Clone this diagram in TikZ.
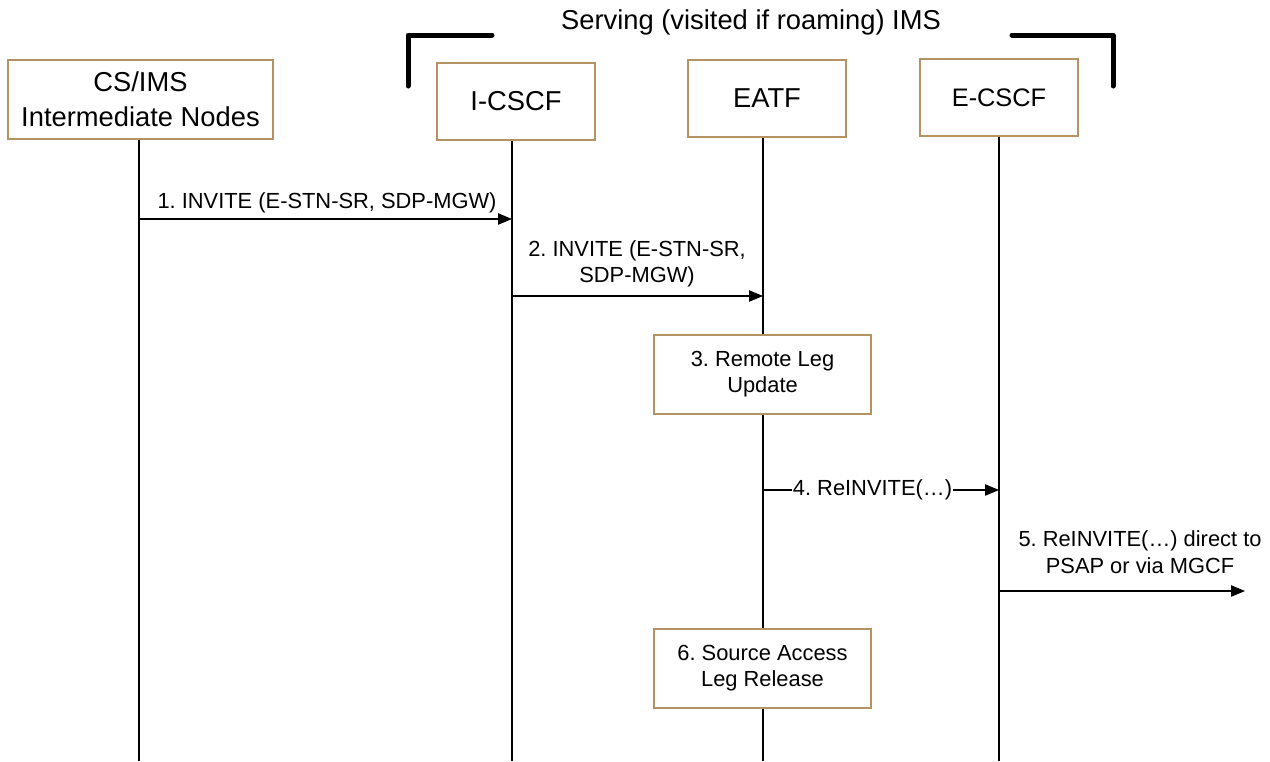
\documentclass[tikz,border=0pt]{standalone}
\usepackage{fontspec}
\setmainfont{Liberation Sans}
\usetikzlibrary{arrows.meta}
\definecolor{boxtan}{RGB}{181,146,97}
\frenchspacing
\begin{document}
\begin{tikzpicture}[x=0.75pt,y=-0.75pt,
  hdr/.style={draw=boxtan,line width=0.9pt,fill=white,inner sep=0pt,align=center,
    font=\fontsize{20.5pt}{26pt}\selectfont},
  actbox/.style={draw=boxtan,line width=0.9pt,fill=white,inner sep=0pt,align=center,
    minimum width=162.75pt,minimum height=59.25pt,
    font=\fontsize{16.4pt}{19.5pt}\selectfont},
  life/.style={line width=1.1pt},
  msg/.style={line width=0.9pt,-{Triangle[length=10.5pt,width=8.5pt]}},
  lbl/.style={align=center,inner sep=1pt,font=\fontsize{16.4pt}{20pt}\selectfont},
  brk/.style={line width=3.75pt,line cap=round,line join=round}]
\useasboundingbox (0,0) rectangle (1270,761);

% lifeline end coordinates
\coordinate (cs-end) at (139,761);
\coordinate (ic-end) at (512,761);
\coordinate (ea-end) at (763,761);
\coordinate (ec-end) at (999,761);
\coordinate (out5) at (1245,591);

% header boxes
\node[hdr,minimum width=198.75pt,minimum height=59.25pt] (cs) at (140.5,99.5) {CS/IMS\\Intermediate Nodes};
\node[hdr,minimum width=118.5pt,minimum height=57.75pt] (ic) at (516,101.5) {I-CSCF};
\node[hdr,minimum width=118.5pt,minimum height=57.75pt] (ea) at (767,98.5) {EATF};
\node[hdr,minimum width=118.5pt,minimum height=57.75pt,font=\fontsize{19pt}{24pt}\selectfont] (ec) at (999,97.5) {E-CSCF};

% lifelines
\draw[life] (cs.south -| cs-end) -- (cs-end);
\draw[life] (ic.south -| ic-end) -- (ic-end);
\draw[life] (ea.south -| ea-end) -- (ea-end);
\draw[life] (ec.south -| ec-end) -- (ec-end);

% title and brackets
\node[font=\fontsize{20.5pt}{26pt}\selectfont,inner sep=0pt] (title) at (751,22) {Serving (visited if roaming) IMS};
\coordinate (bl1) at (408,86);
\coordinate (bl2) at (408,35);
\coordinate (bl3) at (492,35);
\coordinate (br1) at (1012,35);
\coordinate (br2) at (1113,35);
\coordinate (br3) at (1113,86);
\draw[brk] (bl1) -- (bl2) -- (bl3);
\draw[brk] (br1) -- (br2) -- (br3);

% message 1
\draw[msg] (cs-end |- 0,219) -- (ic-end |- 0,219);
\node[lbl] (l1) at (327,203) {1. INVITE (E-STN-SR, SDP-MGW)};

% message 2
\draw[msg] (ic-end |- 0,296) -- (ea-end |- 0,296);
\node[lbl] (l2) at (637,264) {2. INVITE (E-STN-SR,\\SDP-MGW)};

% action 3
\node[actbox] (a3) at (762.5,374.5) {3. Remote Leg\\Update};

% message 4
\draw[msg] (ea-end |- 0,490) -- (ec-end |- 0,490);
\node[lbl,fill=white,inner xsep=0.5pt,inner ysep=0pt] (l4) at (872.5,490) {4. ReINVITE(…)};

% message 5
\draw[msg] (ec-end |- out5) -- (out5);
\node[lbl] (l5) at (1140,552) {5. ReINVITE(…) direct to\\PSAP or via MGCF};

% action 6
\node[actbox] (a6) at (762.5,668.5) {6. Source Access\\Leg Release};
\end{tikzpicture}
\end{document}
